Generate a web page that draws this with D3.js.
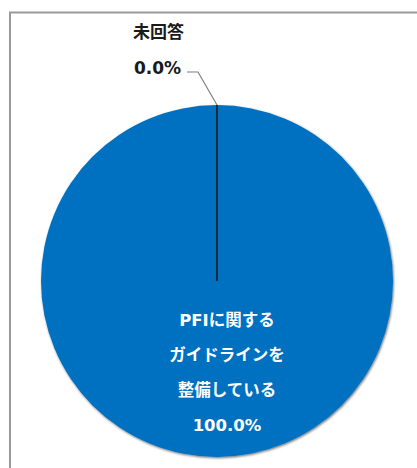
<!DOCTYPE html>
<html>
<head>
<meta charset="utf-8">
<script src="https://cdn.jsdelivr.net/npm/d3@7"></script>
<style>
  body { margin: 0; background: #fff; }
  text { font-family: "DejaVu Sans", "Noto Sans CJK JP", sans-serif; font-weight: bold; }
</style>
</head>
<body>
<svg width="417" height="468"></svg>
<script>
// chart data
var categories = ["未回答", "PFIに関するガイドラインを整備している"];
var insideLines = ["PFIに関する", "ガイドラインを", "整備している"];
var values = [0.0, 100.0];
var colors = ["#0070C0", "#0070C0"];

var svg = d3.select("svg");
var cx = 217, cy = 281, r = 176;

// frame
svg.append("path")
    .attr("d", "M10,468 V12.5 H417")
    .attr("fill", "none")
    .attr("stroke", "#9a9a9a")
    .attr("stroke-width", 2);

var defs = svg.append("defs");
var f = defs.append("filter").attr("id", "sh").attr("x", "-10%").attr("y", "-10%").attr("width", "120%").attr("height", "120%");
f.append("feDropShadow").attr("dx", 0.8).attr("dy", 1.2).attr("stdDeviation", 1)
    .attr("flood-color", "#000").attr("flood-opacity", 0.55);

var pie = d3.pie().sort(null).value(function (d) { return d; });
var arcs = pie(values);
var arc = d3.arc().innerRadius(0).outerRadius(r);

var g = svg.append("g").attr("transform", "translate(" + cx + "," + cy + ")");

g.selectAll("path.slice").data(arcs).enter().append("path")
    .attr("class", "slice")
    .attr("d", arc)
    .attr("fill", function (d, i) { return colors[i]; })
    .attr("filter", "url(#sh)");

// boundary for the empty slice
var a0 = arcs[0].startAngle;
g.append("line")
    .attr("x1", 0).attr("y1", 0)
    .attr("x2", r * Math.sin(a0)).attr("y2", -r * Math.cos(a0))
    .attr("stroke", "#1a1a1a")
    .attr("stroke-width", 1.6);

// leader line for 未回答
var tipX = cx + r * Math.sin(a0), tipY = cy - r * Math.cos(a0);
svg.append("polyline")
    .attr("points", [[187, 72], [198, 72], [tipX, tipY]].map(function (p) { return p.join(","); }).join(" "))
    .attr("fill", "none")
    .attr("stroke", "#7f7f7f")
    .attr("stroke-width", 1.2);

svg.append("text")
    .attr("x", 133).attr("y", 38)
    .attr("font-size", 17)
    .attr("fill", "#1a1a1a")
    .text(categories[0]);
svg.append("text")
    .attr("x", 134).attr("y", 74)
    .attr("font-size", 17)
    .attr("fill", "#1a1a1a")
    .text(values[0].toFixed(1) + "%");

// inside label
var lines = insideLines.concat([values[1].toFixed(1) + "%"]);
svg.append("g").selectAll("text").data(lines).enter().append("text")
    .attr("x", 227)
    .attr("y", function (d, i) { return 326 + i * 35; })
    .attr("text-anchor", "middle")
    .attr("font-size", 16.5)
    .attr("fill", "#fff")
    .text(function (d) { return d; });
</script>
</body>
</html>
